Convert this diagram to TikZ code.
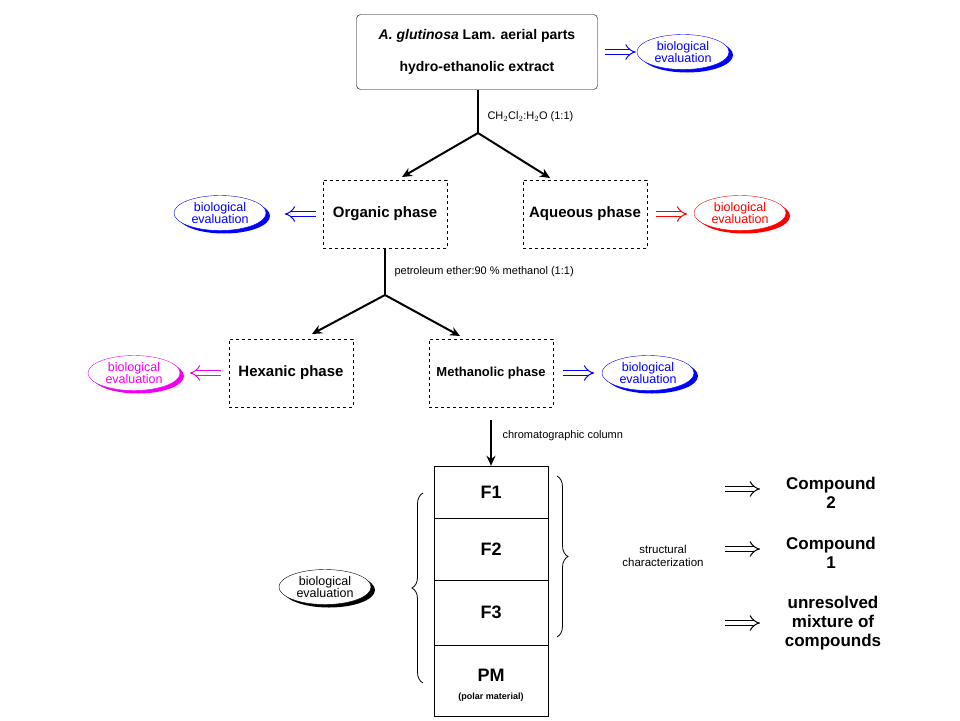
\documentclass[tikz,border=0pt]{standalone}
\usepackage{fontspec}
\setmainfont{Liberation Sans}
\usetikzlibrary{arrows.meta,decorations.pathreplacing,shapes.geometric,calc}
\definecolor{mag}{RGB}{240,0,240}
\begin{document}
\begin{tikzpicture}[x=1pt,y=-1pt,
  lab/.style={font=\bfseries\fontsize{15}{17}\selectfont,align=center},
  small/.style={font=\fontsize{11}{13}\selectfont,anchor=west},
  phase/.style={draw,dashed,minimum width=124pt,minimum height=68pt,lab},
  arr/.style={line width=2pt,-{Stealth[length=10pt,width=9pt]}},
  hol/.style={double,double distance=4.5pt,line width=1pt,-{Implies}},
  cell/.style={draw,minimum width=114pt,lab,font=\bfseries\fontsize{18}{20}\selectfont,inner sep=0pt}]
\useasboundingbox (0,0) rectangle (960,720);
\newcommand{\bioev}[3]{%
  \fill[#1] ($(#2)+(4,3)$) ellipse [x radius=46, y radius=17.5];
  \node[ellipse,draw=#1,fill=white,minimum width=92pt,minimum height=35pt,inner sep=0pt,
    font=\fontsize{12.5}{12.5}\selectfont,text=#1,align=center] (#3) at (#2) {biological\\evaluation};}
\node[draw,rounded corners=4pt,minimum width=241pt,minimum height=75pt,lab,
  font=\bfseries\fontsize{14}{32}\selectfont] (top) at (477,52) {\textit{A. glutinosa} Lam. aerial parts\\hydro-ethanolic extract};
\node[phase] (org) at (385,214) {Organic phase};
\node[phase] (aq) at (585,214) {Aqueous phase};
\node[phase] (hex) at (291,373) {Hexanic phase};
\node[phase,font=\bfseries\fontsize{13}{15}\selectfont] (met) at (491,373) {Methanolic phase};
\coordinate (j1) at (478,133);
\coordinate (j2) at (385,295);
\draw[line width=2pt] (top.south -| j1) -- (j1);
\draw[arr] (j1) -- (402,177);
\draw[arr] (j1) -- (550,178);
\node[small] (l1) at (484,117) {CH$_2$Cl$_2$:H$_2$O (1:1)};
\draw[line width=2pt] (org.south) -- (j2);
\draw[arr] (j2) -- (312,334);
\draw[arr] (j2) -- (460,336);
\node[small] (l2) at (391,272) {petroleum ether:90 \% methanol (1:1)};
\node[small] (l3) at (499,436) {chromatographic column};
\node[cell,minimum height=52pt] (f1) at (491,492) {F1};
\node[cell,minimum height=62pt] (f2) at (491,549) {F2};
\node[cell,minimum height=65pt] (f3) at (491,612.5) {F3};
\node[cell,minimum height=71pt] (pm) at (491,680.5) {};
\node[lab,font=\bfseries\fontsize{18}{20}\selectfont] (pmt) at (491,675) {PM};
\node[font=\bfseries\fontsize{9}{10}\selectfont] (pmp) at (491,697) {(polar material)};
\draw[arr] (met.south |- 0,420) -- (f1.north);
\bioev{blue}{683,52}{b1}
\bioev{blue}{220,213}{b2}
\bioev{red}{740,213}{b3}
\bioev{mag}{134,373}{b4}
\bioev{blue}{648,373}{b5}
\bioev{black}{325,587}{b6}
\draw[hol,blue] ($(top.east)+(7,0)$) -- ++(31,0);
\draw[hol,blue] ($(org.west)+(-7,0)$) -- ++(-31,0);
\draw[hol,red] ($(aq.east)+(9,0)$) -- ++(31,0);
\draw[hol,mag] ($(hex.west)+(-8,0)$) -- ++(-31,0);
\draw[hol,blue] ($(met.east)+(10,0)$) -- ++(31,0);
\draw[decorate,decoration={brace,amplitude=11pt},line width=0.8pt] (423,683) -- (423,493);
\draw[decorate,decoration={brace,amplitude=11pt},line width=0.8pt] (557,476) -- (557,637);
\node[font=\fontsize{11.5}{12.5}\selectfont,align=center] (sc) at (663,556) {structural\\characterization};
\coordinate (c1) at (725,489); \coordinate (c2) at (725,549); \coordinate (c3) at (725,623);
\node[lab,font=\bfseries\fontsize{17}{19}\selectfont] (k1) at (831,493) {Compound\\2};
\node[lab,font=\bfseries\fontsize{17}{19}\selectfont] (k2) at (831,553) {Compound\\1};
\node[lab,font=\bfseries\fontsize{17}{19}\selectfont] (k3) at (833,623) {unresolved\\mixture of\\compounds};
\draw[hol] (c1) -- (760,489);
\draw[hol] (c2) -- (760,549);
\draw[hol] (c3) -- (760,623);
\end{tikzpicture}
\end{document}
